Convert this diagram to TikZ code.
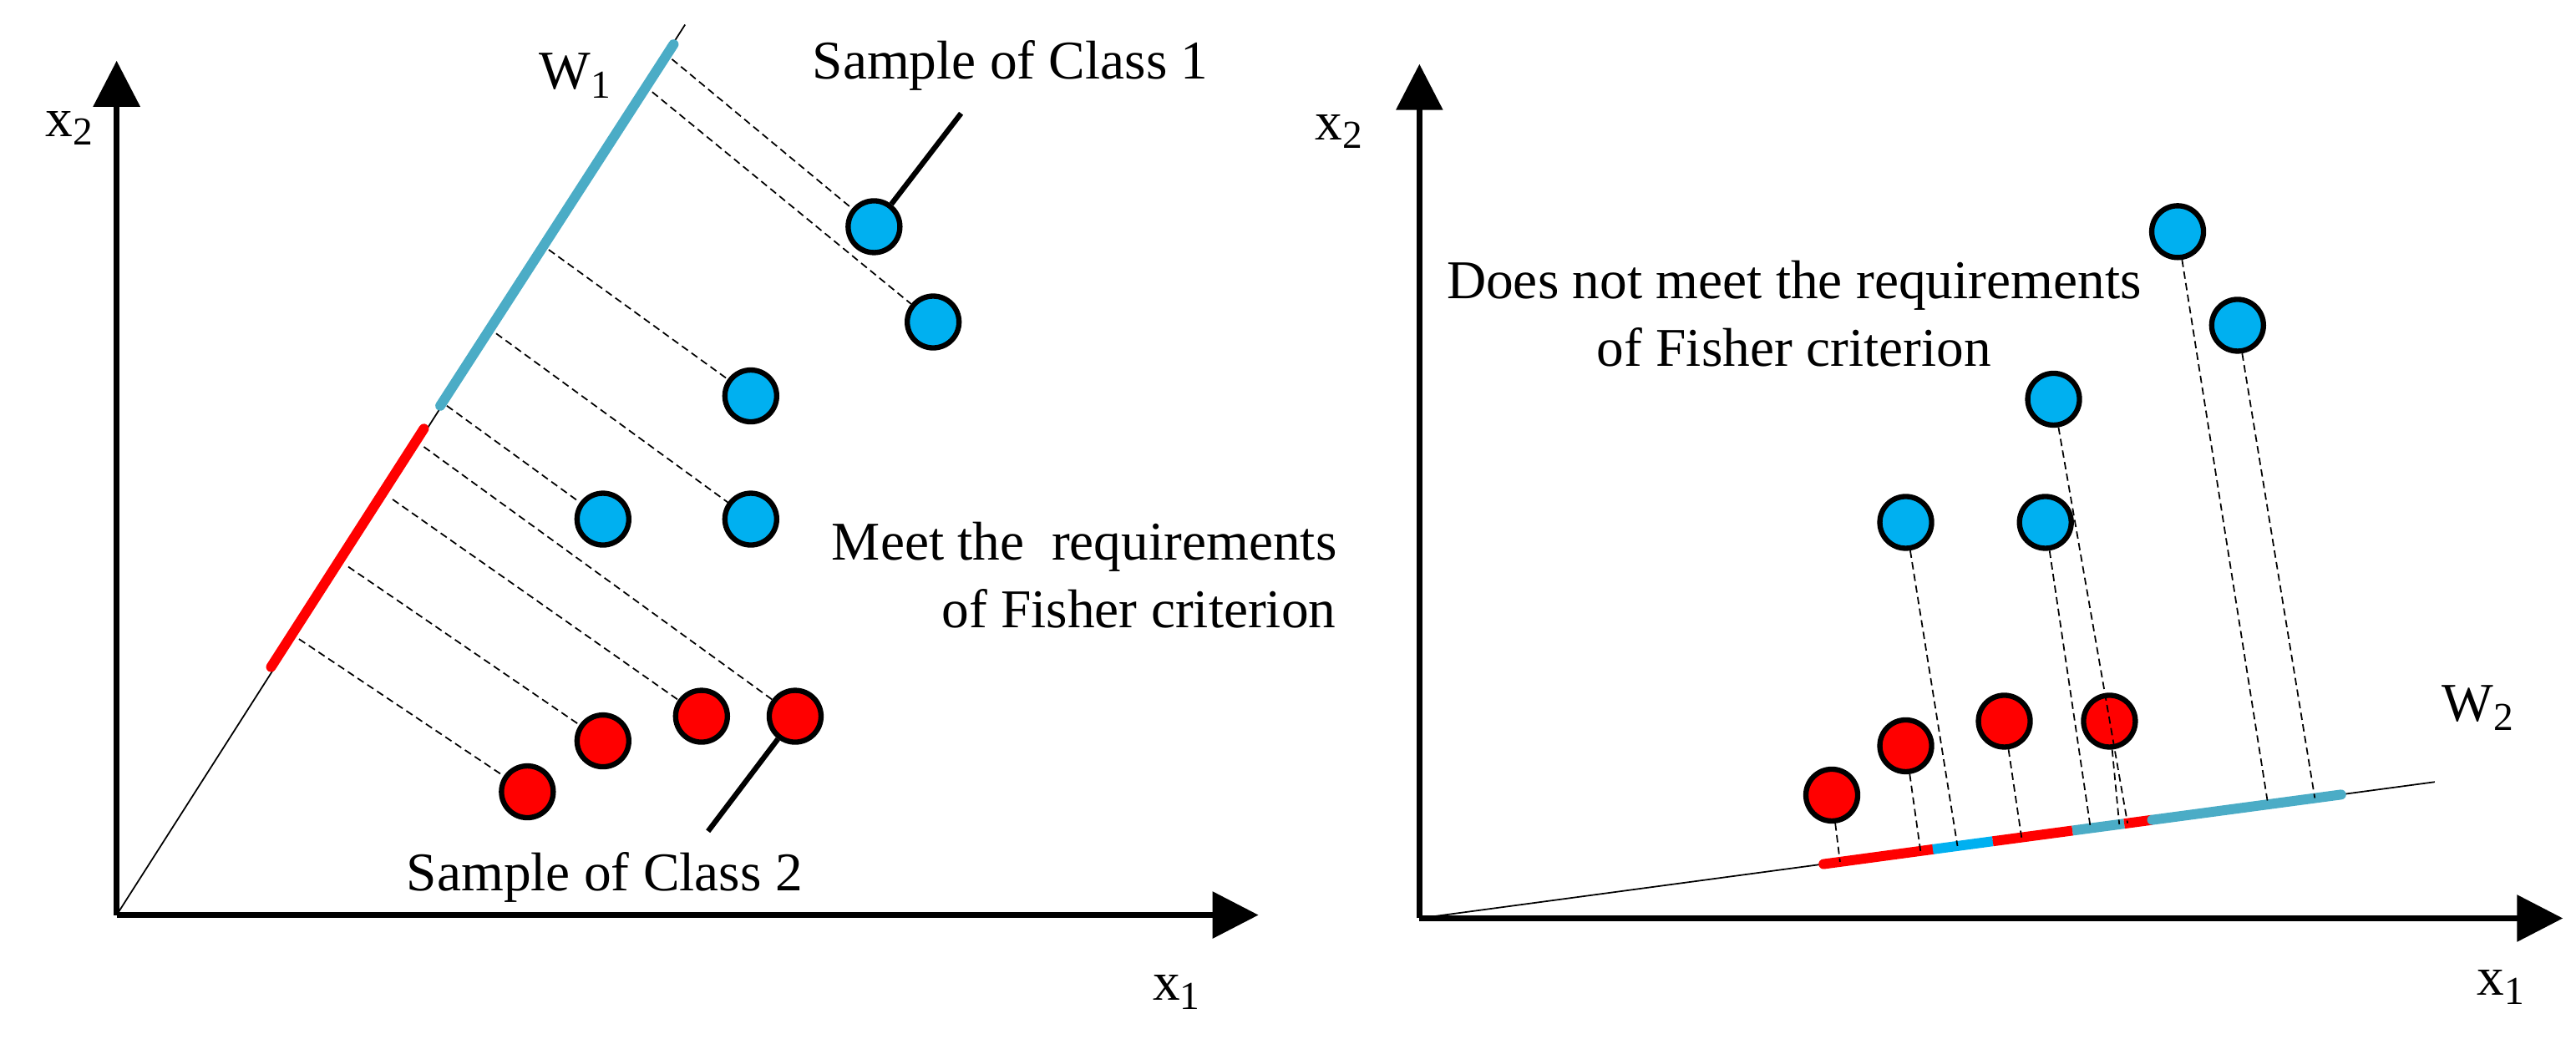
\documentclass[tikz,border=0pt]{standalone}
\usepackage{fontspec}
\setmainfont{Liberation Serif}
\usetikzlibrary{arrows.meta}
\definecolor{cblue}{HTML}{00B0F0}
\definecolor{cred}{HTML}{FF0000}
\definecolor{cteal}{HTML}{4BACC6}
\newcommand{\mysub}[1]{\raisebox{-0.35ex}{\fontsize{13.5}{13.5}\selectfont #1}}
\begin{document}
\begin{tikzpicture}[x=0.019668cm,y=-0.019668cm,
  lbl/.style={font=\fontsize{18.6}{23}\selectfont, inner sep=0pt},
  axis/.style={line width=1.8pt,-{Triangle[length=0.55cm,width=0.55cm]}},
  dot/.style={circle,draw=black,line width=1.8pt,minimum size=0.62cm,inner sep=0pt},
  bdot/.style={dot,fill=cblue},
  rdot/.style={dot,fill=cred},
  proj/.style={dashed,line width=0.5pt,dash pattern=on 2.5pt off 1.5pt},
  seg/.style={line width=3.4pt,line cap=round},
  lead/.style={line width=1.8pt}]
\useasboundingbox (0,0) rectangle (1568,632);
% ---------- left panel ----------
\coordinate (O1) at (71,557);
\coordinate (X1) at (766,557);
\coordinate (Y1) at (71,37);
\coordinate (E1) at (417,15);
\draw[axis] (O1) -- (X1);
\draw[axis] (O1) -- (Y1);
\draw[line width=0.5pt] (O1) -- (E1);
\coordinate (b1a) at (268,247); \coordinate (b1b) at (410,27);
\coordinate (r1a) at (258,261); \coordinate (r1b) at (165,406);
\draw[seg,cteal] (b1a) -- (b1b);
\draw[seg,cred] (r1a) -- (r1b);
\node[lbl] (lx2a) at (42,78) {x\mysub{2}};
\node[lbl] (lx1a) at (716,604) {x\mysub{1}};
\node[lbl] (lw1) at (350,46) {W\mysub{1}};
\node[bdot] (B1) at (532,138) {};
\node[bdot] (B2) at (568,196) {};
\node[bdot] (B3) at (457,241) {};
\node[bdot] (B4) at (367,316) {};
\node[bdot] (B5) at (457,316) {};
\node[rdot] (R1) at (321,482) {};
\node[rdot] (R2) at (367,451) {};
\node[rdot] (R3) at (427,436) {};
\node[rdot] (R4) at (484,436) {};
\coordinate (p1) at (409,36);  \coordinate (p2) at (397,56);
\coordinate (p3) at (334,152); \coordinate (p4) at (302,203);
\coordinate (p5) at (272,247); \coordinate (p6) at (258,272);
\coordinate (p7) at (239,304); \coordinate (p8) at (212,345);
\coordinate (p9) at (182,389);
\draw[proj] (p1) -- (B1);
\draw[proj] (p2) -- (B2);
\draw[proj] (p3) -- (B3);
\draw[proj] (p4) -- (B5);
\draw[proj] (p5) -- (B4);
\draw[proj] (p6) -- (R4);
\draw[proj] (p7) -- (R3);
\draw[proj] (p8) -- (R2);
\draw[proj] (p9) -- (R1);
\coordinate (L1) at (585,69);
\coordinate (L2) at (431,506);
\draw[lead] (B1) -- (L1);
\draw[lead] (R4) -- (L2);
\node[lbl] (t1) at (615,40) {Sample of Class 1};
\node[lbl] (t2) at (368,534) {Sample of Class 2};
\node[lbl,align=center] (t3) at (660,350) {Meet the\ \ requirements\\\hspace*{2em}of Fisher criterion};
% ---------- right panel ----------
\coordinate (O2) at (864,559);
\coordinate (X2) at (1560,559);
\coordinate (Y2) at (864,39);
\coordinate (E2) at (1482,476);
\draw[axis] (O2) -- (X2);
\draw[axis] (O2) -- (Y2);
\draw[line width=0.5pt] (O2) -- (E2);
\coordinate (s0) at (1110,526.0);
\coordinate (s1) at (1176.5,517.0);
\coordinate (s2) at (1213,512.1);
\coordinate (s3) at (1261.5,505.6);
\coordinate (s4) at (1293,501.4);
\coordinate (s5) at (1310,499.1);
\coordinate (s6) at (1425,483.7);
\draw[seg,cred] (s0) -- (s1);
\draw[seg,cblue,line cap=butt] (s1) -- (s2);
\draw[seg,cred,line cap=butt] (s2) -- (s3);
\draw[seg,cteal,line cap=butt] (s3) -- (s4);
\draw[seg,cred,line cap=butt] (s4) -- (s5);
\draw[seg,cteal] (s5) -- (s6);
\node[lbl] (lx2b) at (815,80) {x\mysub{2}};
\node[lbl] (lx1b) at (1522,601) {x\mysub{1}};
\node[lbl] (lw2) at (1508,431) {W\mysub{2}};
\node[bdot] (C1) at (1325.5,141) {};
\node[bdot] (C2) at (1362,198) {};
\node[bdot] (C3) at (1250,243) {};
\node[bdot] (C4) at (1160,318) {};
\node[bdot] (C5) at (1245,318) {};
\node[rdot] (D1) at (1115,484) {};
\node[rdot] (D2) at (1160,454) {};
\node[rdot] (D3) at (1220,439) {};
\node[rdot] (D4) at (1284,439) {};
\coordinate (q1) at (1120,524.6);
\coordinate (q2) at (1169,518.0);
\coordinate (q3) at (1191.5,515.0);
\coordinate (q4) at (1230.5,509.8);
\coordinate (q5) at (1272.5,504.1);
\coordinate (q6) at (1290,501.8);
\coordinate (q7) at (1295,501.1);
\coordinate (q8) at (1380.5,489.6);
\coordinate (q9) at (1409,485.8);
\draw[proj] (D1) -- (q1);
\draw[proj] (D2) -- (q2);
\draw[proj] (C4) -- (q3);
\draw[proj] (D3) -- (q4);
\draw[proj] (C5) -- (q5);
\draw[proj] (D4) -- (q6);
\draw[proj] (C3) -- (q7);
\draw[proj] (C1) -- (q8);
\draw[proj] (C2) -- (q9);
\node[lbl,align=center] (t4) at (1092,191) {Does not meet the requirements\\of Fisher criterion};
\end{tikzpicture}
\end{document}
